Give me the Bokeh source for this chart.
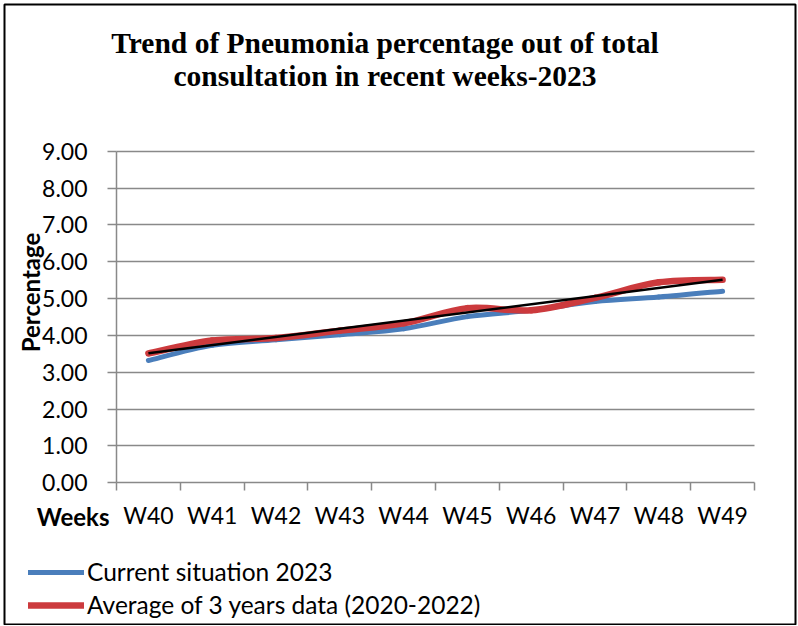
import numpy as np
from bokeh.plotting import figure
from bokeh.models import Range1d, FixedTicker, Label, Legend, LegendItem, ColumnDataSource, Grid
from bokeh.embed import file_html
from bokeh.resources import INLINE

# ---- data ----
weeks = ["W40", "W41", "W42", "W43", "W44", "W45", "W46", "W47", "W48", "W49"]
current_2023 = [3.32, 3.73, 3.88, 4.02, 4.18, 4.51, 4.68, 4.92, 5.04, 5.20]
avg_2020_2022 = [3.51, 3.86, 3.93, 4.13, 4.33, 4.74, 4.68, 5.02, 5.44, 5.51]
y_ticks = [0, 1, 2, 3, 4, 5, 6, 7, 8, 9]
series_names = ["Current situation 2023", "Average of 3 years data (2020-2022)"]
title_lines = ["Trend of Pneumonia percentage out of total",
               "consultation in recent weeks-2023"]
x_title = "Weeks"
y_title = "Percentage"

BLUE = "#4A7EBB"
RED = "#CC3A3D"
GRID = "#898989"
FONT = "Lato"

# ---- layout geometry (pixels) ----
W, H = 797, 625
FL, FR, FT, FB = 4, 795, 4, 624          # chart border (frame)
AX_X0, CAT_W = 116.0, 63.8               # plot-area left edge, px per category
AX_Y0, UNIT_H = 482.3, 36.85             # y=0 position, px per unit


def px2x(px):
    return (px - AX_X0) / CAT_W


def px2y(py):
    return (AX_Y0 - py) / UNIT_H


xs = [i + 0.5 for i in range(len(weeks))]


def smooth_segments(x, y):
    n = len(x)
    d = dict(x0=[], y0=[], x1=[], y1=[], cx0=[], cy0=[], cx1=[], cy1=[])
    for i in range(n - 1):
        xa, ya, xb, yb = x[i], y[i], x[i + 1], y[i + 1]
        xp, yp = (x[i - 1], y[i - 1]) if i > 0 else (xa, ya)
        xn, yn = (x[i + 2], y[i + 2]) if i + 2 < n else (xb, yb)
        d["x0"].append(xa); d["y0"].append(ya)
        d["x1"].append(xb); d["y1"].append(yb)
        d["cx0"].append(xa + (xb - xp) / 6.0); d["cy0"].append(ya + (yb - yp) / 6.0)
        d["cx1"].append(xb - (xn - xa) / 6.0); d["cy1"].append(yb - (yn - ya) / 6.0)
    return ColumnDataSource(d)


p = figure(width=W, height=H, output_backend="svg", toolbar_location=None,
           x_range=Range1d(px2x(FL), px2x(FR)), y_range=Range1d(px2y(FB), px2y(FT)),
           min_border_left=FL, min_border_right=W - FR, min_border_top=FT, min_border_bottom=H - FB)
p.outline_line_color = "black"
p.outline_line_width = 2
p.background_fill_color = "white"
p.border_fill_color = "white"

# ---- y axis ----
yax = p.yaxis[0]
yax.fixed_location = 0
yax.bounds = (y_ticks[0], y_ticks[-1])
yax.ticker = FixedTicker(ticks=y_ticks)
yax.major_label_overrides = {t: f"{t:.2f}" for t in y_ticks}
yax.major_tick_out = 9
yax.major_tick_in = 0
yax.minor_tick_line_color = None
yax.axis_line_color = GRID
yax.axis_line_width = 1.5
yax.major_tick_line_color = GRID
yax.major_tick_line_width = 1.5
yax.major_label_standoff = 20
yax.major_label_text_font = FONT
yax.major_label_text_font_size = "23px"
yax.major_label_text_color = "black"

# ---- x axis ----
xax = p.xaxis[0]
xax.fixed_location = 0
xax.bounds = (0, len(weeks))
xax.ticker = FixedTicker(ticks=xs, minor_ticks=list(range(len(weeks) + 1)))
xax.major_label_overrides = {x: w for x, w in zip(xs, weeks)}
xax.major_tick_out = 0
xax.major_tick_in = 0
xax.minor_tick_out = 8
xax.minor_tick_in = 0
xax.minor_tick_line_color = GRID
xax.minor_tick_line_width = 1.5
xax.axis_line_color = GRID
xax.axis_line_width = 1.5
xax.major_label_standoff = 10
xax.major_label_text_font = FONT
xax.major_label_text_font_size = "23px"
xax.major_label_text_color = "black"

# ---- grid ----
p.xgrid.grid_line_color = None
p.ygrid.ticker = FixedTicker(ticks=y_ticks[1:])
p.ygrid.grid_line_color = GRID
p.ygrid.grid_line_width = 1.5
if "cross_bounds" in Grid.properties():
    p.ygrid.cross_bounds = (0, len(weeks))

# ---- series (smoothed like the original) ----
src_b = smooth_segments(xs, current_2023)
src_r = smooth_segments(xs, avg_2020_2022)
p.bezier(x0="x0", y0="y0", x1="x1", y1="y1", cx0="cx0", cy0="cy0", cx1="cx1", cy1="cy1",
         source=src_b, line_color=BLUE, line_width=5, line_cap="round")
p.bezier(x0="x0", y0="y0", x1="x1", y1="y1", cx0="cx0", cy0="cy0", cx1="cx1", cy1="cy1",
         source=src_r, line_color=RED, line_width=6.5, line_cap="round")

# linear trendline of the 3-year average
idx = np.arange(len(weeks))
slope, icpt = np.polyfit(idx, np.array(avg_2020_2022), 1)
p.line(x=[xs[0], xs[-1]], y=[icpt, icpt + slope * idx[-1]], line_color="black", line_width=2.5)

# ---- legend ----
lb = p.line(x=xs, y=current_2023, line_color=BLUE, line_width=5, line_cap="round", visible=False)
lr = p.line(x=xs, y=avg_2020_2022, line_color=RED, line_width=6.5, line_cap="round", visible=False)
legend = Legend(items=[LegendItem(label=series_names[0], renderers=[lb]),
                       LegendItem(label=series_names[1], renderers=[lr])],
                location=(28 - FL, FB - 619), orientation="vertical",
                glyph_width=56, glyph_height=22, label_height=22, label_standoff=3,
                spacing=4, padding=0, margin=0,
                background_fill_alpha=0, border_line_color=None,
                label_text_font=FONT, label_text_font_size="24.5px", label_text_color="black")
p.add_layout(legend)

# ---- titles ----
TITLE_FONT = dict(text_font="Liberation Serif", text_font_style="bold",
                  text_font_size="29.5px", text_color="black")
p.add_layout(Label(x=px2x(384.5), y=px2y(42), text=title_lines[0],
                   text_align="center", text_baseline="alphabetic", **TITLE_FONT))
p.add_layout(Label(x=px2x(384.5), y=px2y(75), text=title_lines[1],
                   text_align="center", text_baseline="alphabetic", **TITLE_FONT))
p.add_layout(Label(x=px2x(30), y=px2y(292), text=y_title,
                   angle=np.pi / 2, text_align="center", text_baseline="middle",
                   text_font=FONT, text_font_style="bold", text_font_size="24px",
                   text_color="black"))
p.add_layout(Label(x=px2x(109), y=px2y(516), text=x_title,
                   text_align="right", text_baseline="alphabetic",
                   text_font=FONT, text_font_style="bold", text_font_size="24px",
                   text_color="black"))

open("out.html", "w").write(file_html(p, INLINE))
